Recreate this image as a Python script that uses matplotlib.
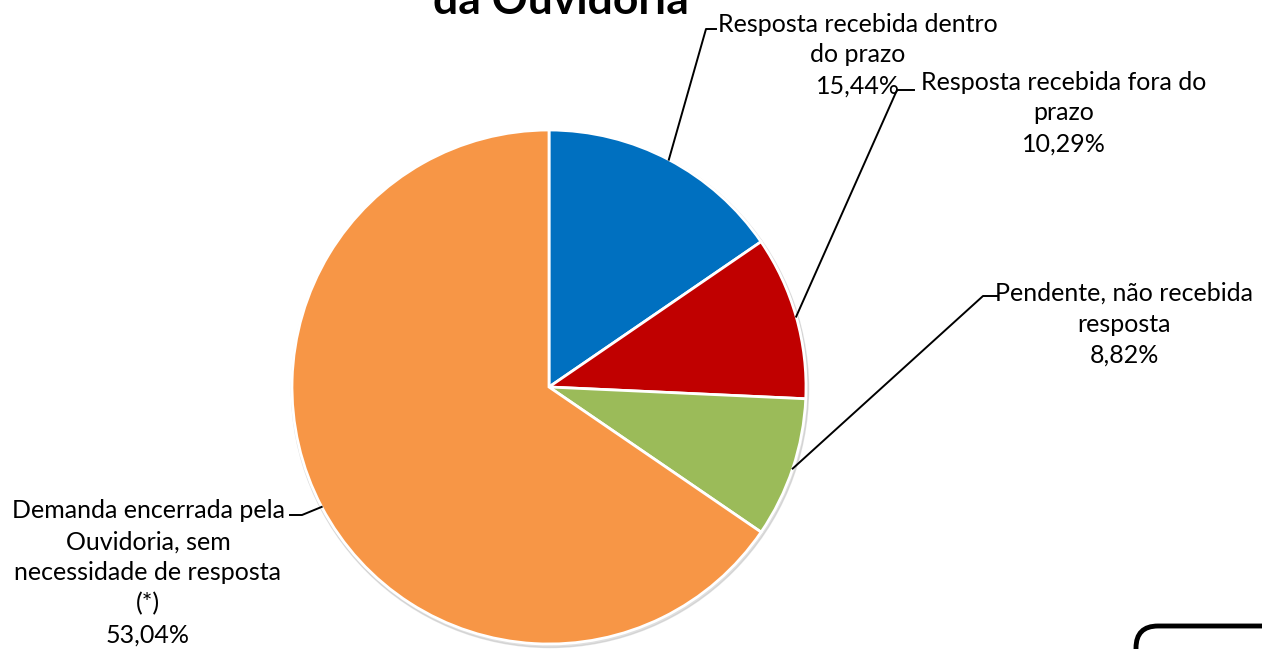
import numpy as np
import matplotlib
matplotlib.use('Agg')
import matplotlib.pyplot as plt
from matplotlib.patches import Circle, FancyBboxPatch

# Dados (tamanhos das fatias, rótulos como aparecem)
categorias = ['Resposta recebida dentro\ndo prazo',
              'Resposta recebida fora do\nprazo',
              'Pendente, não recebida\nresposta',
              'Demanda encerrada pela\nOuvidoria, sem\nnecessidade de resposta\n(*)']
fatias = [15.44, 10.29, 8.82, 65.45]
percentuais = ['15,44%', '10,29%', '8,82%', '53,04%']
cores = ['#0070C0', '#C00000', '#9BBB59', '#F79646']

W, H = 1262, 649
fig = plt.figure(figsize=(W / 100, H / 100), dpi=100)
ax = fig.add_axes([0, 0, 1, 1])

def py(y):
    # converte y em pixels (de cima) para coordenada do eixo
    return H - y

cx, cy, r = 549, py(387), 257

# sombra leve
ax.add_patch(Circle((cx + 1, cy - 2), r + 1.5, color='#c0c0c0', alpha=0.5, zorder=1))

wedges, _ = ax.pie(fatias, colors=cores, startangle=90, counterclock=False,
                   center=(cx, cy), radius=r, frame=True,
                   wedgeprops=dict(edgecolor='white', linewidth=2))
for w in wedges:
    w.set_zorder(2)
ax.set_xlim(0, W)
ax.set_ylim(0, H)
ax.set_aspect('equal')
ax.axis('off')

# posições dos rótulos (pixels): centro do texto, dobra e fim da linha
fonte = ['Lato', 'DejaVu Sans']
rotulos = [
    dict(tx=858, ty=55, bend=(706, 29), end=(716, 29)),
    dict(tx=1064, ty=113, bend=(897, 90), end=(914, 90)),
    dict(tx=1124, ty=324, bend=(983, 296), end=(997, 296)),
    dict(tx=148, ty=573, bend=(302, 515), end=(290, 515)),
]

for w, cat, pct, lab in zip(wedges, categorias, percentuais, rotulos):
    ang = np.deg2rad((w.theta1 + w.theta2) / 2)
    ex, ey = cx + r * np.cos(ang), cy + r * np.sin(ang)
    bx, by = lab['bend']
    fx, fy = lab['end']
    ax.plot([ex, bx, fx], [ey, py(by), py(fy)], color='black', lw=1.4, zorder=3)
    ax.text(lab['tx'], py(lab['ty']), cat + '\n' + pct, ha='center', va='center',
            fontsize=18, family=fonte, linespacing=1.42, zorder=4)

# título (cortado no topo)
ax.text(561, py(14), 'da Ouvidoria', ha='center', va='baseline',
        fontsize=32, fontweight='bold', family=fonte, zorder=4)

# caixa arredondada no canto inferior direito
ax.add_patch(FancyBboxPatch((1136, py(700)), 200, 74,
                            boxstyle='round,pad=0,rounding_size=22',
                            facecolor='white', edgecolor='black', lw=3.5, zorder=4))

fig.savefig('out.png', dpi=100)
